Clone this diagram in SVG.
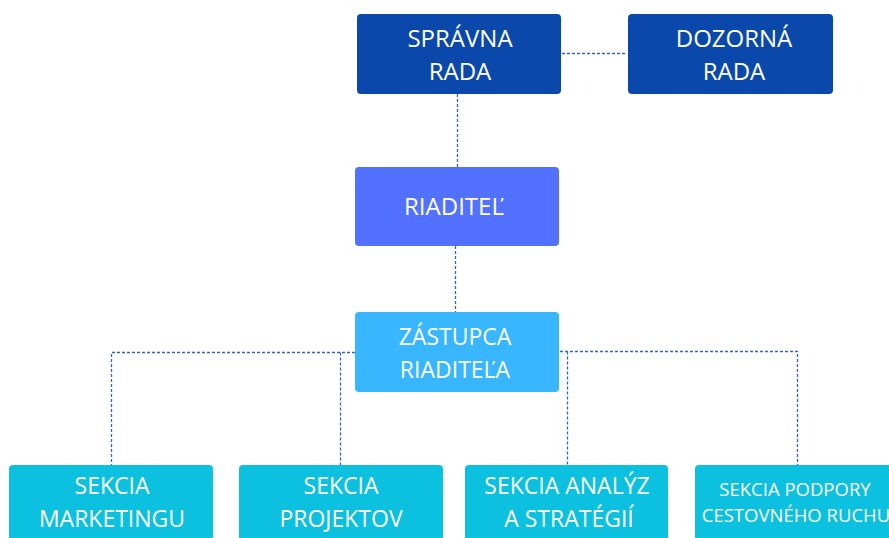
<svg xmlns="http://www.w3.org/2000/svg" width="889" height="538" viewBox="0 0 889 538">
<style>
text{font-family:"Open Sans","Noto Sans","Liberation Sans",sans-serif;fill:#fff;text-anchor:middle;font-size:23px}
.t{font-size:24px}
.s{font-size:18.5px}
.c{fill:none;stroke:#3364c4;stroke-width:1.3;stroke-dasharray:3 2}
</style>
<rect width="889" height="538" fill="#fff"/>
<g id="connectors">
<path class="c" d="M562 53.5H627"/>
<path class="c" d="M457.5 94V167"/>
<path class="c" d="M455.5 246V312"/>
<path class="c" d="M355 352.5H111.5V465"/>
<path class="c" d="M340.5 352.5V465"/>
<path class="c" d="M560 351.5H797.5V465"/>
<path class="c" d="M567.5 351.5V465"/>
</g>
<g id="spravna"><rect x="357" y="14" width="204" height="80" rx="4" fill="#0b48ab"/><text class="t" x="460" y="47">SPRÁVNA</text><text class="t" x="460" y="80">RADA</text></g>
<g id="dozorna"><rect x="628" y="14" width="205" height="80" rx="4" fill="#0b48ab"/><text class="t" x="734" y="47">DOZORNÁ</text><text class="t" x="734" y="80">RADA</text></g>
<g id="riaditel"><rect x="355" y="167" width="204" height="79" rx="4" fill="#5271ff"/><text class="t" x="454" y="215">RIADITEĽ</text></g>
<g id="zastupca"><rect x="355" y="312" width="204" height="80" rx="4" fill="#38b6ff"/><text x="455" y="345">ZÁSTUPCA</text><text x="455" y="378">RIADITEĽA</text></g>
<g id="marketing"><rect x="9" y="465" width="204" height="90" rx="4" fill="#0cc0df"/><text x="112" y="494">SEKCIA</text><text x="112" y="527">MARKETINGU</text></g>
<g id="projekty"><rect x="239" y="465" width="204" height="90" rx="4" fill="#0cc0df"/><text x="341" y="494">SEKCIA</text><text x="341" y="527">PROJEKTOV</text></g>
<g id="analyzy"><rect x="465" y="465" width="203" height="90" rx="4" fill="#0cc0df"/><text x="567" y="494">SEKCIA ANALÝZ</text><text x="569" y="527">A STRATÉGIÍ</text></g>
<g id="podpora"><rect x="695" y="465" width="204" height="90" rx="4" fill="#0cc0df"/><text class="s" x="795" y="496">SEKCIA PODPORY</text><text class="s" x="796" y="522">CESTOVNÉHO RUCHU</text></g>
</svg>
